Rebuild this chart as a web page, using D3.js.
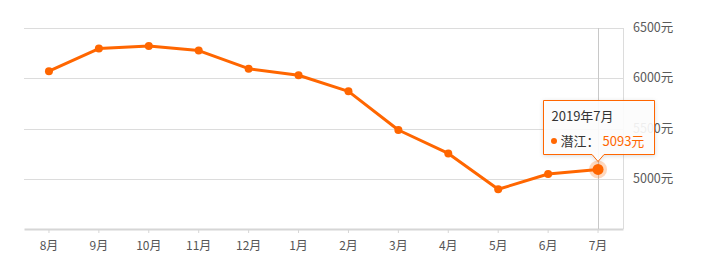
<!DOCTYPE html>
<html>
<head>
<meta charset="utf-8">
<script src="https://cdn.jsdelivr.net/npm/d3@7"></script>
<style>
  html, body { margin: 0; padding: 0; background: #fff; }
  svg { display: block; font-family: "Noto Sans CJK SC", "Noto Sans", sans-serif; }
</style>
</head>
<body>
<div id="chart"></div>
<script>
const months = ['8月', '9月', '10月', '11月', '12月', '1月', '2月', '3月', '4月', '5月', '6月', '7月'];
const prices = [6070, 6295, 6320, 6275, 6095, 6030, 5870, 5485, 5252, 4895, 5047, 5093];
const yTicks = [5000, 5500, 6000, 6500];
const cityName = '潜江';
const tipTitle = '2019年7月';
const activeIndex = 11;

const width = 703, height = 276;
const margin = { top: 28, right: 80, bottom: 47, left: 24 };
const color = '#ff6600';

const svg = d3.select('#chart').append('svg')
  .attr('width', width)
  .attr('height', height);

const x = d3.scaleBand()
  .domain(months)
  .range([margin.left, width - margin.right]);

const y = d3.scaleLinear()
  .domain([4500, 6500])
  .range([height - margin.bottom, margin.top]);

// horizontal grid
svg.append('g')
  .selectAll('line')
  .data(yTicks)
  .join('line')
  .attr('x1', margin.left)
  .attr('x2', width - margin.right)
  .attr('y1', d => Math.round(y(d)) + 0.5)
  .attr('y2', d => Math.round(y(d)) + 0.5)
  .attr('stroke', '#dcdcdc')
  .attr('stroke-width', 1);

// right border of plot
svg.append('line')
  .attr('x1', width - margin.right + 0.5)
  .attr('x2', width - margin.right + 0.5)
  .attr('y1', margin.top)
  .attr('y2', height - margin.bottom)
  .attr('stroke', '#dcdcdc');

// right axis labels
svg.append('g')
  .selectAll('text')
  .data(yTicks)
  .join('text')
  .attr('x', width - margin.right + 10)
  .attr('y', d => y(d) + 4)
  .attr('font-size', 12.5)
  .attr('fill', '#5a5a5a')
  .text(d => d + '元');

// bottom axis
const xAxis = svg.append('g')
  .attr('transform', `translate(0,${height - margin.bottom})`)
  .call(d3.axisBottom(x).tickSizeInner(4).tickSizeOuter(0).tickPadding(8));
xAxis.select('.domain').attr('stroke', '#d6d6d6').attr('stroke-width', 2);
xAxis.selectAll('.tick line').attr('stroke', '#d6d6d6');
xAxis.selectAll('.tick text')
  .attr('font-size', 12)
  .attr('fill', '#555')
  .attr('font-family', '"Noto Sans CJK SC", sans-serif');

const cx = d => x(d) + x.bandwidth() / 2;

// crosshair
svg.append('line')
  .attr('x1', Math.round(cx(months[activeIndex])) + 0.5)
  .attr('x2', Math.round(cx(months[activeIndex])) + 0.5)
  .attr('y1', margin.top)
  .attr('y2', height - margin.bottom)
  .attr('stroke', '#c8c8c8');

// line
const line = d3.line()
  .x((d, i) => cx(months[i]))
  .y(d => y(d));

svg.append('path')
  .datum(prices)
  .attr('fill', 'none')
  .attr('stroke', color)
  .attr('stroke-width', 3)
  .attr('stroke-linejoin', 'round')
  .attr('d', line);

svg.append('g')
  .selectAll('circle')
  .data(prices)
  .join('circle')
  .attr('cx', (d, i) => cx(months[i]))
  .attr('cy', d => y(d))
  .attr('r', (d, i) => i === activeIndex ? 0 : 4)
  .attr('fill', color);

// active point
const ax = cx(months[activeIndex]);
const ay = y(prices[activeIndex]);
svg.append('circle')
  .attr('cx', ax).attr('cy', ay).attr('r', 9)
  .attr('fill', color).attr('opacity', 0.25);
svg.append('circle')
  .attr('cx', ax).attr('cy', ay).attr('r', 5.5)
  .attr('fill', color);

// tooltip
const tipW = 111, tipH = 54;
const tipX = 543.5, tipY = 100.5;
const tip = svg.append('g');
const arrowX = ax;
tip.append('path')
  .attr('d', `M${tipX},${tipY} h${tipW} v${tipH} H${arrowX + 6} l-6,7 l-6,-7 H${tipX} Z`)
  .attr('fill', 'rgba(255,255,255,0.9)')
  .attr('stroke', color)
  .attr('stroke-width', 1)
  .style('filter', 'drop-shadow(0 1px 2px rgba(0,0,0,0.15))');

tip.append('text')
  .attr('x', tipX + 8)
  .attr('y', tipY + 20)
  .attr('font-size', 13)
  .attr('fill', '#333')
  .text(tipTitle);

tip.append('circle')
  .attr('cx', tipX + 10.5)
  .attr('cy', tipY + 40.5)
  .attr('r', 3)
  .attr('fill', color);

tip.append('text')
  .attr('x', tipX + 17)
  .attr('y', tipY + 45)
  .attr('font-size', 13)
  .attr('fill', '#333')
  .text(cityName + '：');

tip.append('text')
  .attr('x', tipX + 59)
  .attr('y', tipY + 45)
  .attr('font-size', 13)
  .attr('fill', color)
  .text(prices[activeIndex] + '元');
</script>
</body>
</html>
